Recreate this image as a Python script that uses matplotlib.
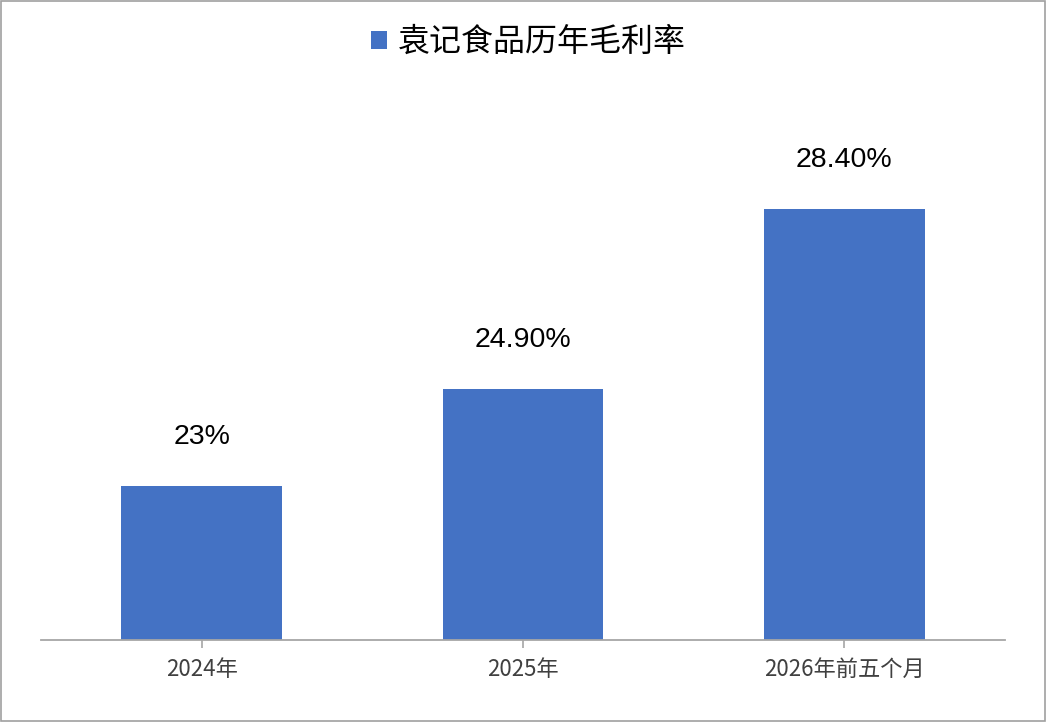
import matplotlib
matplotlib.use("Agg")
import matplotlib.pyplot as plt
from matplotlib.patches import Rectangle

categories = ["2024年", "2025年", "2026年前五个月"]
gross_margin = [23, 24.9, 28.4]
value_labels = ["23%", "24.90%", "28.40%"]
series_name = "袁记食品历年毛利率"

plt.rcParams['font.family'] = ['Noto Sans CJK SC', 'DejaVu Sans']

fig = plt.figure(figsize=(10.47, 7.22), dpi=100)
ax = fig.add_axes([41 / 1047, 1 - 640 / 722, (1005 - 41) / 1047, (640 - 127) / 722])

x = range(len(categories))
bars = ax.bar(x, gross_margin, width=0.5, color="#4472C4", label=series_name)
ax.set_ylim(20, 30)
ax.set_xlim(-0.5, len(categories) - 0.5)

for xi, v, lab in zip(x, gross_margin, value_labels):
    ax.annotate(lab, (xi, v), xytext=(0, 26), textcoords="offset points",
                ha="center", va="bottom", fontsize=20.5, color="black",
                family=['Liberation Sans', 'Noto Sans CJK SC'])

ax.set_xticks(list(x))
ax.set_xticklabels(categories, fontsize=16, color="#404040")
ax.tick_params(axis="x", length=6, width=1.2, color="#A6A6A6", pad=7)
ax.set_yticks([])
for s in ["top", "right", "left"]:
    ax.spines[s].set_visible(False)
ax.spines["bottom"].set_color("#A6A6A6")
ax.spines["bottom"].set_linewidth(1.3)

# legend doubles as the title, like the Excel original
fig.legend(loc="center", bbox_to_anchor=(0.505, 1 - 42 / 722), frameon=False,
           handlelength=0.5, handleheight=0.5, handletextpad=0.35,
           prop={'size': 23}, labelcolor="black")

fig.patches.append(Rectangle((0.001, 0.002), 0.997, 0.996, transform=fig.transFigure,
                             fill=False, edgecolor="#A0A0A0", linewidth=1.2))

fig.savefig("out.png", dpi=100)
